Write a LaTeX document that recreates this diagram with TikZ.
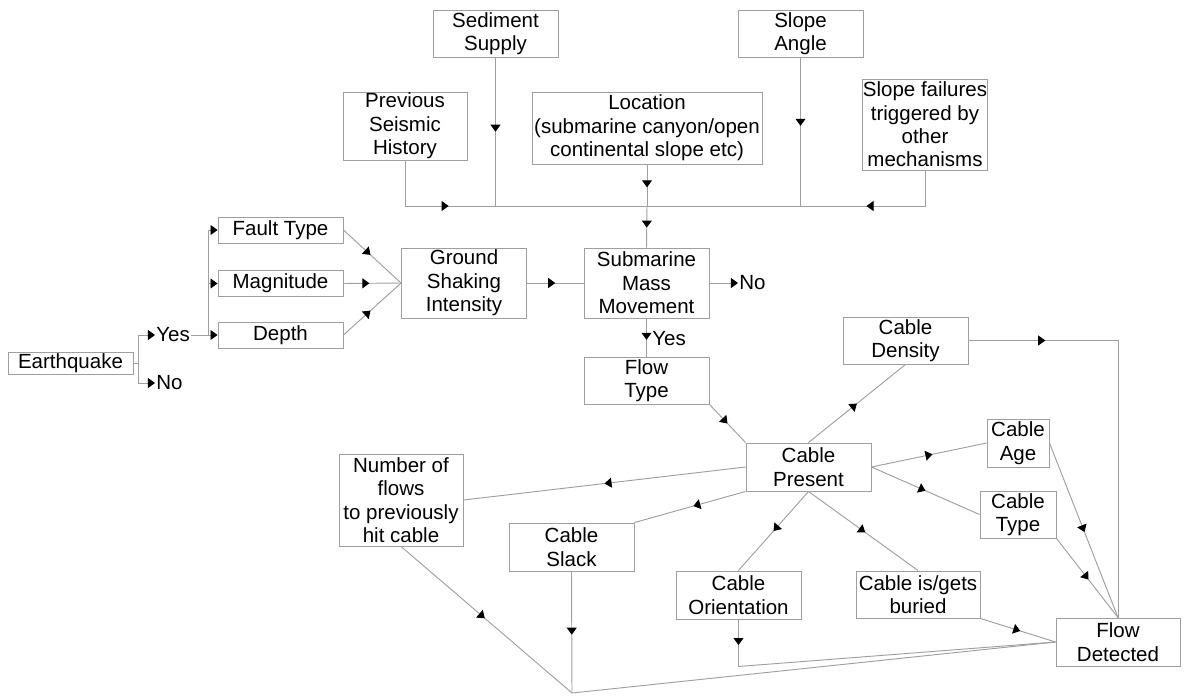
\documentclass[tikz,border=0pt]{standalone}
\usepackage{fontspec}
\setmainfont{Liberation Sans}
\usetikzlibrary{arrows.meta,decorations.markings}

\tikzset{
	box/.style={draw=gray!75, line width=.8pt, fill=white, align=center, inner sep=0pt, minimum width=3.75cm, minimum height=1.41cm},
	wire/.style={draw=gray!75, line width=.8pt},
	endtip/.style={-{Triangle[length=6pt,width=8.5pt,color=black]}},
	midtip/.style={postaction={decorate}, decoration={markings, mark=at position #1 with {\arrow[black]{Triangle[length=6pt,width=8.5pt]}}}},
	midtip/.default=.5,
	word/.style={anchor=west, inner sep=1pt}
}

\begin{document}
\begin{tikzpicture}[x=.03cm, y=-.03cm, font=\fontsize{17.5}{20}\selectfont]
	\useasboundingbox (0,0) rectangle (1186,697);
	\node[box, minimum height=.66cm] (quake) at (70.5,363) {Earthquake};
	\node[word] (yes1) at (155,335) {Yes};
	\node[word] (no1) at (155,383) {No};
	\node[box, minimum height=.78cm] (fault) at (280.5,230) {Fault Type};
	\node[box, minimum height=.8cm] (mag) at (280.5,283.5) {Magnitude};
	\node[box, minimum height=.78cm] (depth) at (280.5,335) {Depth};
	\node[box, minimum height=2.1cm] (ground) at (464,283) {Ground\\Shaking\\Intensity};
	\node[box, minimum height=2.1cm] (smm) at (646.5,283) {Submarine\\Mass\\Movement};
	\node[word] (no2) at (738,283) {No};
	\node[word] (yes2) at (651,339) {Yes};
	\node[box] (flowtype) at (646.5,380.5) {Flow\\Type};
	\node[box] (sediment) at (495.5,33.5) {Sediment\\Supply};
	\node[box] (slopeang) at (800.5,33.5) {Slope\\Angle};
	\node[box, minimum width=3.72cm, minimum height=2.04cm] (prevseis) at (405,126) {Previous\\Seismic\\History};
	\node[box, minimum width=6.9cm, minimum height=2.16cm] (location) at (647,128) {Location\\(submarine canyon/open\\continental slope etc)};
	\node[box, minimum width=3.72cm, minimum height=2.73cm] (slopefail) at (925,124.5) {Slope failures\\triggered by\\other\\mechanisms};
	\node[box] (density) at (905.5,340.5) {Cable\\Density};
	\node[box, minimum height=1.44cm] (present) at (808.5,467) {Cable\\Present};
	\node[box, minimum width=1.86cm, minimum height=1.44cm] (age) at (1018,443) {Cable\\Age};
	\node[box, minimum width=2.28cm] (type) at (1018,514.5) {Cable\\Type};
	\node[box, minimum width=3.72cm] (buried) at (918,594.5) {Cable is/gets\\buried};
	\node[box, minimum height=1.44cm] (orient) at (738.5,595) {Cable\\Orientation};
	\node[box, minimum height=1.44cm] (slack) at (571.5,547) {Cable\\Slack};
	\node[box, minimum width=3.72cm, minimum height=2.76cm] (numflows) at (401,500) {Number of\\flows\\to previously\\hit cable};
	\node[box, minimum width=3.72cm, minimum height=1.44cm] (detected) at (1118,642) {Flow\\Detected};
	\coordinate (split) at (208,335);
	\coordinate (bus) at (647,206);
	\coordinate (meet) at (572,693);
	\draw[wire, endtip] (quake.east) -- ++(5,0) |- (yes1.west);
	\draw[wire, endtip] (quake.east) -- ++(5,0) |- (no1.west);
	\draw[wire, endtip] (yes1.east) -- (depth.west);
	\draw[wire, endtip] (split) |- (fault.west);
	\draw[wire, endtip] (split) |- (mag.west);
	\draw[wire, midtip=.47] (fault.east) -- (ground.west);
	\draw[wire, midtip=.45] (mag.east) -- (ground.west);
	\draw[wire, midtip=.47] (depth.east) -- (ground.west);
	\draw[wire, midtip] (ground.east) -- (smm.west);
	\draw[wire, endtip] (smm.east) -- (no2.west);
	\draw[wire, midtip=.56] (smm.south) -- (flowtype.north);
	\draw[wire, midtip=.31] (prevseis.south) |- (bus);
	\draw[wire, midtip=.3] (slopefail.south) |- (bus);
	\draw[wire, midtip] (sediment.south) -- (sediment.south |- bus);
	\draw[wire, midtip=.46] (slopeang.south) -- (slopeang.south |- bus);
	\draw[wire, midtip=.55] (location.south) -- (bus);
	\draw[wire, midtip=.52] (bus) -- (smm.north);
	\draw[wire, midtip] (flowtype.south east) -- (present.north west);
	\draw[wire, midtip] (present.north) -- (density.south);
	\draw[wire, midtip=.18] (density.east) -| (detected.north);
	\draw[wire, midtip=.53] (present.east) -- (age.west);
	\draw[wire, midtip] (present.east) -- (type.west);
	\draw[wire, midtip] (present.south) -- (orient.north);
	\draw[wire, midtip=.52] (present.south) -- (buried.north);
	\draw[wire, midtip] (present.west) -- (numflows.east);
	\draw[wire, midtip=.47] (present.south west) -- (slack.north east);
	\draw[wire, midtip=.51] (age.east) -- (detected.north);
	\draw[wire, midtip=.52] (type.south east) -- (detected.north);
	\draw[wire, midtip=.53] (buried.south east) -- (detected.west);
	\draw[wire, midtip=.07] (orient.south) -- ++(0,47) -- (detected.west);
	\draw[wire, midtip=.49] (numflows.south) -- (meet);
	\draw[wire, midtip=.52] (slack.south) -- (meet);
	\draw[wire] (meet) -- (detected.west);
\end{tikzpicture}
\end{document}
